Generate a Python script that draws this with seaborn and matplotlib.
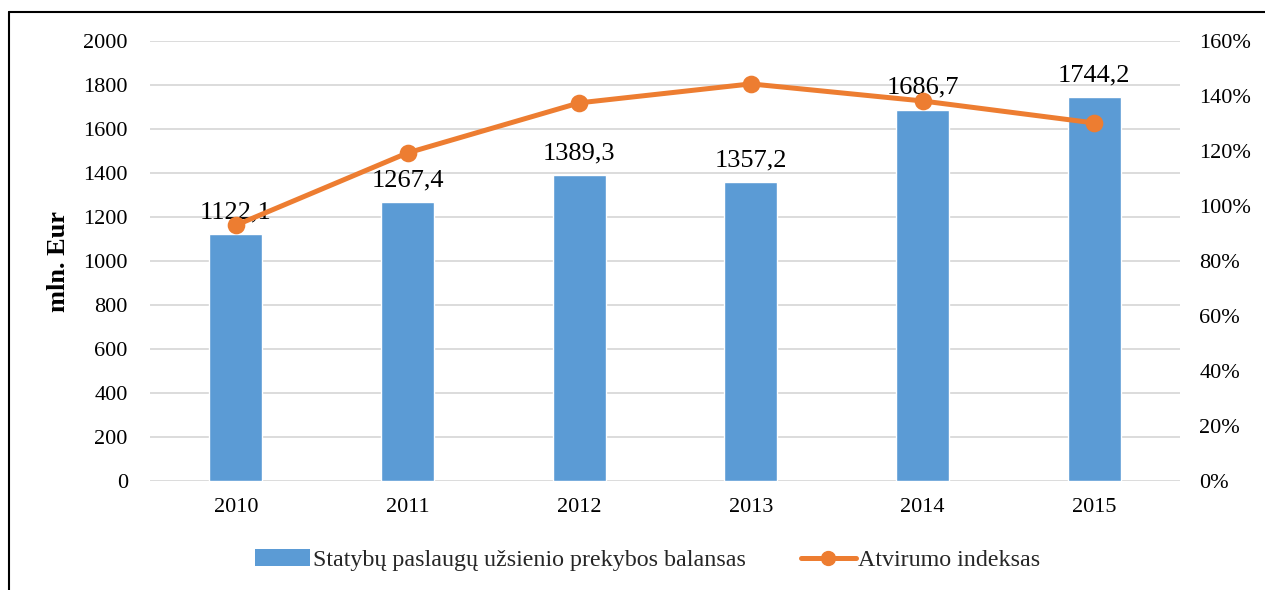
import matplotlib
matplotlib.use("Agg")
import matplotlib.pyplot as plt
import seaborn as sns
import pandas as pd
from matplotlib.lines import Line2D
from matplotlib.patches import Patch
from matplotlib.ticker import FuncFormatter, MultipleLocator

years = ["2010", "2011", "2012", "2013", "2014", "2015"]
balance = [1122.1, 1267.4, 1389.3, 1357.2, 1686.7, 1744.2]
openness = [93.0, 119.3, 137.5, 144.4, 138.2, 130.2]
bar_name = "Statybų paslaugų užsienio prekybos balansas"
line_name = "Atvirumo indeksas"
y_label = "mln. Eur"

BLUE = "#5b9bd5"
ORANGE = "#ed7d31"
GRID = "#d9d9d9"

sns.set_theme(style="white")
plt.rcParams["font.family"] = ["Liberation Serif", "DejaVu Serif"]

df = pd.DataFrame({"year": years, "balance": balance, "openness": openness})

fig = plt.figure(figsize=(12.65, 5.9), dpi=100)
ax = fig.add_axes([150 / 1265, 1 - 481 / 590, 1030 / 1265, 440 / 590])

sns.barplot(data=df, x="year", y="balance", color=BLUE, width=0.31,
            saturation=1, ax=ax, zorder=2)
ax.set_ylim(0, 2000)
ax.yaxis.set_major_locator(MultipleLocator(200))
ax.grid(axis="y", color=GRID, linewidth=1.3, zorder=0)
ax.set_axisbelow(True)
for s in ax.spines.values():
    s.set_visible(False)
ax.tick_params(axis="both", length=0, labelsize=16, colors="black")
ax.tick_params(axis="y", pad=16)
ax.tick_params(axis="x", pad=12)
ax.set_xlabel("")
ax.set_ylabel(y_label, fontsize=19, fontweight="bold", color="black")
ax.yaxis.set_label_coords(-0.078, 0.5)

labels = [f"{v:.1f}".replace(".", ",") for v in balance]
ax.bar_label(ax.containers[0], labels=labels, padding=8, fontsize=19,
             color="black")

ax2 = ax.twinx()
sns.pointplot(data=df, x="year", y="openness", color=ORANGE, markers="o",
              markersize=10, linewidth=3.6, ax=ax2, zorder=5)
ax2.set_ylim(0, 160)
ax2.yaxis.set_major_locator(MultipleLocator(20))
ax2.yaxis.set_major_formatter(FuncFormatter(lambda v, p: f"{v:.0f}%"))
for s in ax2.spines.values():
    s.set_visible(False)
ax2.tick_params(axis="y", length=0, labelsize=16, pad=14, colors="black")
ax2.set_ylabel("")
ax2.grid(False)
ax.set_xlim(-0.5, 5.5)
ax2.set_xlim(-0.5, 5.5)

handles = [Patch(facecolor=BLUE, edgecolor="none"),
           Line2D([0], [0], color=ORANGE, linewidth=3.6, marker="o",
                  markersize=10)]
fig.legend(handles, [bar_name, line_name], loc="center",
           bbox_to_anchor=(0.512, 1 - 560 / 590), ncol=2, frameon=False,
           fontsize=17.3, handlelength=2.3, handletextpad=0.1,
           columnspacing=2.3)

# outer frame (top and left edges visible)
fig.add_artist(Line2D([9 / 1265, 9 / 1265], [0, 1 - 12 / 590],
                      transform=fig.transFigure, color="black", linewidth=1.5))
fig.add_artist(Line2D([9 / 1265, 1], [1 - 12 / 590, 1 - 12 / 590],
                      transform=fig.transFigure, color="black", linewidth=1.5))

fig.savefig("out.png", dpi=100)
